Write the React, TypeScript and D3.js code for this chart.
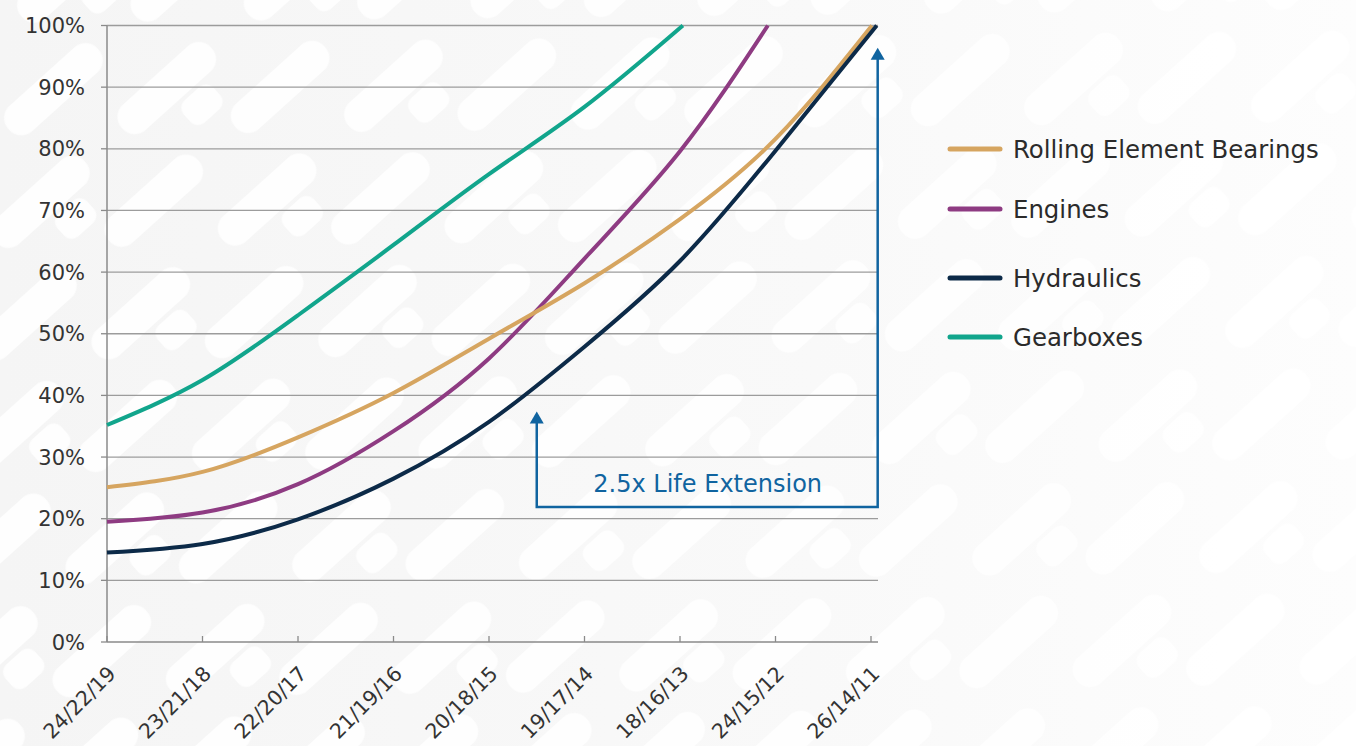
import React from "react";
import * as d3 from "d3";

const categories = ["24/22/19", "23/21/18", "22/20/17", "21/19/16", "20/18/15", "19/17/14", "18/16/13", "24/15/12", "26/14/11"];
const yTicks = [0, 10, 20, 30, 40, 50, 60, 70, 80, 90, 100];

// [category index, percent]
const bearings: [number, number][] = [[0, 25.1], [1, 27.6], [2, 33.2], [3, 40.4], [4, 49.2], [5, 58.2], [6, 68.6], [7, 81.6], [8.01, 100]];
const engines: [number, number][] = [[0, 19.5], [1, 21.0], [2, 25.6], [3, 34.2], [4, 46.0], [5, 62.2], [6, 79.6], [6.92, 100]];
const hydraulics: [number, number][] = [[0, 14.5], [1, 15.9], [2, 19.9], [3, 26.5], [4, 35.7], [5, 47.9], [6, 61.8], [7, 79.7], [8.06, 100]];
const gearboxes: [number, number][] = [[0, 35.2], [1, 42.5], [2, 53.0], [3, 64.4], [4, 75.9], [5, 86.8], [6.03, 100]];

const seriesNames = ["Rolling Element Bearings", "Engines", "Hydraulics", "Gearboxes"];
const seriesColors = ["#d6a560", "#8e3b82", "#0c2a48", "#11a58c"];
const seriesData = [bearings, engines, hydraulics, gearboxes];
const drawOrder = [3, 1, 0, 2];

// annotation in data units
const annoLeftIdx = 4.5;
const annoRightIdx = 8.07;
const annoBaseVal = 21.9;
const annoLeftTip = 37.4;
const annoRightTip = 96.4;
const annoText = "2.5x Life Extension";
const annoTextIdx = 6.29;
const annoTextVal = 24.4;

const FONT = "'DejaVu Sans', sans-serif";

export default function App() {
  const W = 1356, H = 746;
  const x = d3.scaleLinear().domain([0, 8]).range([107, 871]);
  const y = d3.scaleLinear().domain([0, 100]).range([642, 25.5]);
  const gridRight = 878;
  const line = d3.line<[number, number]>().x(d => x(d[0])).y(d => y(d[1])).curve(d3.curveNatural);
  const blue = "#1064a0";

  const legendY = [149, 209, 278, 337];

  return (
    <svg width={W} height={H} style={{ position: "absolute", left: 0, top: 0, background: "#fff" }} fontFamily={FONT}>
      <defs>
        <linearGradient id="bg" x1="0" x2="1" y1="0" y2="0">
          <stop offset="0" stopColor="#f5f5f5" />
          <stop offset="0.6" stopColor="#f9f9f9" />
          <stop offset="1" stopColor="#fdfdfd" />
        </linearGradient>
        <pattern id="wm" width="170" height="150" patternUnits="userSpaceOnUse" patternTransform="rotate(-42)">
          <rect x="5" y="10" width="120" height="34" rx="16" fill="#fff" />
          <rect x="90" y="85" width="120" height="34" rx="16" fill="#fff" />
          <rect x="-80" y="85" width="120" height="34" rx="16" fill="#fff" />
          <rect x="60" y="48" width="40" height="30" rx="10" fill="#fff" />
        </pattern>
      </defs>
      <rect width={W} height={H} fill="url(#bg)" />
      <rect width={W} height={H} fill="url(#wm)" opacity={0.85} />

      {/* gridlines */}
      {yTicks.map(t => (
        <line key={t} x1={x(0)} x2={gridRight} y1={y(t)} y2={y(t)} stroke={t === 0 ? "#8a8a8a" : "#9c9c9c"} strokeWidth={1.3} />
      ))}
      {/* y axis */}
      <line x1={x(0)} x2={x(0)} y1={y(100)} y2={y(0)} stroke="#8a8a8a" strokeWidth={1.5} />
      {yTicks.map(t => (
        <line key={"yt" + t} x1={x(0) - 6} x2={x(0)} y1={y(t)} y2={y(t)} stroke="#8a8a8a" strokeWidth={1.3} />
      ))}
      {yTicks.map(t => (
        <text key={"yl" + t} x={85} y={y(t) + 7.5} textAnchor="end" fontSize={21} fill="#333">{t}%</text>
      ))}
      {/* x ticks */}
      {categories.map((c, i) => (
        <line key={"xt" + i} x1={x(i)} x2={x(i)} y1={y(0) - 6} y2={y(0)} stroke="#8a8a8a" strokeWidth={1.3} />
      ))}
      {categories.map((c, i) => (
        <text key={"xl" + i} transform={`translate(${x(i) + 10},${y(0) + 33}) rotate(-45)`} textAnchor="end" fontSize={20.5} fill="#333">{c}</text>
      ))}

      {/* series */}
      {drawOrder.map(si => (
        <path key={si} d={line(seriesData[si]) || ""} fill="none" stroke={seriesColors[si]} strokeWidth={4} strokeLinecap="butt" />
      ))}

      {/* annotation */}
      <polyline points={`${x(annoLeftIdx)},${y(annoLeftTip) + 8} ${x(annoLeftIdx)},${y(annoBaseVal)} ${x(annoRightIdx)},${y(annoBaseVal)} ${x(annoRightIdx)},${y(annoRightTip) + 8}`}
        fill="none" stroke={blue} strokeWidth={2.5} />
      <path d={`M${x(annoLeftIdx)},${y(annoLeftTip)} l-7,12 l14,0 z`} fill={blue} />
      <path d={`M${x(annoRightIdx)},${y(annoRightTip)} l-7,12 l14,0 z`} fill={blue} />
      <text x={x(annoTextIdx)} y={y(annoTextVal)} textAnchor="middle" fontSize={24} fill={blue}>{annoText}</text>

      {/* legend */}
      {seriesNames.map((n, i) => (
        <g key={n}>
          <line x1={950} x2={1000} y1={legendY[i]} y2={legendY[i]} stroke={seriesColors[i]} strokeWidth={5} strokeLinecap="round" />
          <text x={1013} y={legendY[i] + 8.5} fontSize={24.4} fill="#2b2b2b">{n}</text>
        </g>
      ))}
    </svg>
  );
}
